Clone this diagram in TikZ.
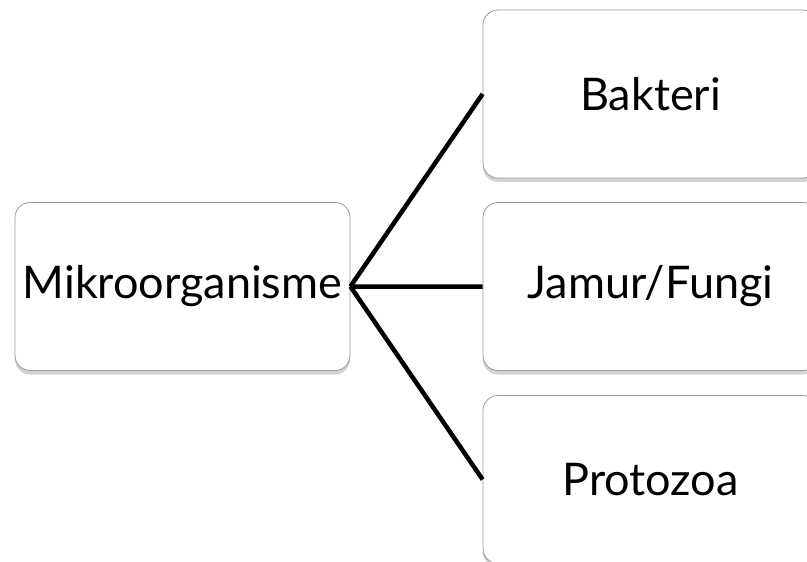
\documentclass[tikz,border=0pt]{standalone}
\usepackage{fontspec}
\setmainfont{Lato}
\usetikzlibrary{shadows}
\tikzset{
	kotak/.style={draw=gray!80, line width=0.8pt, fill=white, rounded corners=15pt,
		minimum width=335pt, minimum height=168pt, inner sep=0pt,
		font=\fontsize{45}{52}\selectfont,
		drop shadow={shadow xshift=0pt, shadow yshift=-4pt, opacity=0.35}},
	cabang/.style={line width=4.5pt}
}
\begin{document}
\begin{tikzpicture}[x=1pt,y=-1pt]
	\useasboundingbox (0,0) rectangle (807,562);
	\clip (0,0) rectangle (807,562);
	\coordinate (M) at (182.5,286.5);
	\coordinate (B) at (650.5,94);
	\coordinate (J) at (650.5,286.5);
	\coordinate (P) at (650.5,479.5);
	\node [kotak] (root) at (M) {Mikroorganisme};
	\node [kotak] (bakteri) at (B) {Bakteri};
	\node [kotak] (jamur) at (J) {Jamur/Fungi};
	\node [kotak] (protozoa) at (P) {Protozoa};
	\draw [cabang] (root.east)--(bakteri.west) (root.east)--(jamur.west) (root.east)--(protozoa.west);
\end{tikzpicture}
\end{document}
